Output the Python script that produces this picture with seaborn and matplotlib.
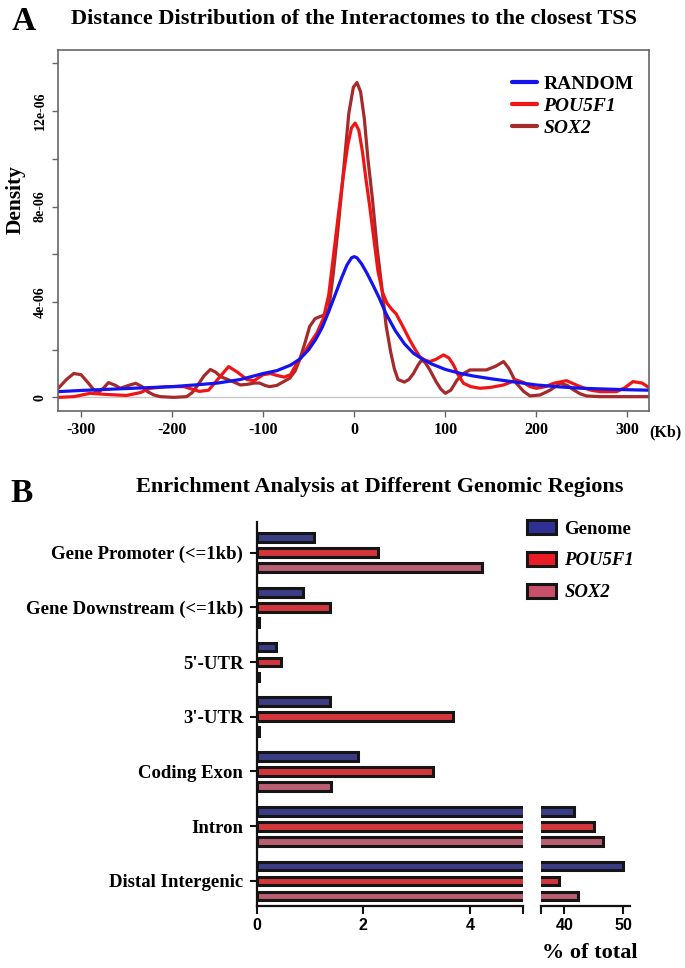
import matplotlib
matplotlib.use("Agg")
import matplotlib.pyplot as plt
import pandas as pd
import seaborn as sns
from matplotlib.lines import Line2D
from matplotlib.patches import Patch

sns.set_style("white")
plt.rcParams["font.family"] = ["Liberation Serif", "DejaVu Serif"]
plt.rcParams["font.weight"] = "bold"
plt.rcParams["text.color"] = "black"
plt.rcParams["xtick.labelcolor"] = "black"
plt.rcParams["ytick.labelcolor"] = "black"

# ---- panel A: density curves (x in kb, density in 1e-06)
random_kb = [-325, -300, -275, -250, -225, -200, -175, -150, -125, -100, -85, -70,
             -60, -50, -42, -35, -28, -21, -14, -8, -3, 0, 3, 8, 14, 20, 27, 35,
             45, 55, 65, 75, 85, 100, 115, 130, 150, 175, 200, 225, 250, 275, 300, 325]
random_den = [0.24, 0.29, 0.33, 0.37, 0.41, 0.45, 0.52, 0.6, 0.75, 1.0, 1.12, 1.35,
              1.6, 2.0, 2.45, 2.95, 3.6, 4.3, 5.0, 5.55, 5.85, 5.9, 5.85, 5.6, 5.2, 4.75, 4.2, 3.5,
              2.8, 2.25, 1.85, 1.6, 1.4, 1.17, 1.02, 0.9, 0.78, 0.65, 0.52, 0.44, 0.38, 0.35, 0.32, 0.3]

pou5f1_kb = [-325, -308, -290, -271, -250, -235, -224, -205, -187, -170, -160, -150,
             -138, -128, -118, -110, -100, -92, -85, -77, -70, -63, -56, -48, -41, -34,
             -28, -22, -17, -12, -7, -3, 1, 5, 9, 13, 17, 22, 26, 31, 36, 41, 46, 53,
             61, 67, 72, 78, 83, 90, 98, 104, 109, 114, 120, 128, 138, 150, 164, 178,
             186, 193, 200, 210, 219, 233, 248, 260, 270, 288, 297, 306, 316, 325]
pou5f1_den = [0.0, 0.03, 0.17, 0.12, 0.08, 0.2, 0.38, 0.45, 0.45, 0.25, 0.3, 0.75,
              1.29, 1.05, 0.75, 0.7, 0.95, 1.0, 0.92, 0.85, 0.95, 1.43, 1.8, 2.3, 2.7, 3.3,
              4.3, 6.2, 7.8, 9.3, 10.6, 11.3, 11.5, 11.2, 10.3, 9.1, 8.0, 6.5, 5.3, 4.4, 3.95, 3.7, 3.5, 3.0,
              2.4, 2.0, 1.7, 1.55, 1.5, 1.6, 1.78, 1.65, 1.36, 0.95, 0.59, 0.45, 0.38, 0.42, 0.52, 0.73,
              0.62, 0.45, 0.38, 0.45, 0.59, 0.7, 0.45, 0.3, 0.24, 0.24, 0.4, 0.66, 0.6, 0.38]

sox2_kb = [-325, -316, -308, -300, -292, -286, -280, -275, -270, -262, -257, -248,
           -240, -233, -227, -220, -213, -198, -184, -178, -173, -165, -158, -152, -147,
           -137, -125, -117, -110, -104, -98, -93, -85, -78, -71, -65, -60, -54, -49,
           -43, -38, -33, -28, -23, -18, -12, -6, -1, 3, 7, 11, 15, 20, 25, 30, 35, 40,
           44, 48, 55, 60, 65, 70, 74, 78, 83, 90, 95, 100, 106, 113, 120, 127, 136,
           145, 155, 164, 170, 178, 186, 193, 204, 215, 226, 234, 241, 248, 255, 270,
           291, 310, 325]
sox2_den = [0.38, 0.75, 1.0, 0.95, 0.6, 0.31, 0.24, 0.4, 0.62, 0.5, 0.38, 0.5,
            0.59, 0.45, 0.24, 0.1, 0.03, 0.0, 0.03, 0.2, 0.45, 0.9, 1.17, 1.05, 0.87,
            0.72, 0.52, 0.55, 0.6, 0.6, 0.5, 0.45, 0.5, 0.65, 0.8, 1.1, 1.57, 2.3, 2.97,
            3.3, 3.38, 3.45, 3.7, 5.2, 7.0, 9.4, 11.9, 13.0, 13.2, 12.8, 11.7, 10.0, 8.3, 6.3, 4.7, 3.0, 1.9,
            1.2, 0.75, 0.64, 0.75, 1.0, 1.35, 1.57, 1.45, 1.15, 0.65, 0.35, 0.17, 0.3, 0.73, 1.0, 1.15, 1.15,
            1.15, 1.3, 1.5, 1.2, 0.59, 0.25, 0.06, 0.1, 0.3, 0.59, 0.5, 0.31, 0.15, 0.06, 0.03,
            0.03, 0.03, 0.03]

density_ticks = [0, 2, 4, 6, 8, 10, 12, 14]
density_labels = ["0", "", "4e-06", "", "8e-06", "", "12e-06", ""]
kb_ticks = [-300, -200, -100, 0, 100, 200, 300]

# ---- panel B: % of total per genomic region
regions = ["Gene Promoter (<=1kb)", "Gene Downstream (<=1kb)", "5'-UTR", "3'-UTR",
           "Coding Exon", "Intron", "Distal Intergenic"]
groups = ["Genome", "POU5F1", "SOX2"]
genome_pct = [1.07, 0.87, 0.37, 1.37, 1.91, 41.6, 49.9]
pou5f1_pct = [2.28, 1.37, 0.46, 3.69, 3.31, 45.0, 39.1]
sox2_pct = [4.22, 0.04, 0.04, 0.04, 1.39, 46.5, 42.3]

line_colors = {"RANDOM": "#1414f0", "POU5F1": "#f01414", "SOX2": "#a52a2a"}
bar_colors = {"Genome": "#2e3192", "POU5F1": "#ec1c24", "SOX2": "#c85068"}
SANS = ["Liberation Sans", "DejaVu Sans"]


def draw_density(fig):
    ax = fig.add_axes([0.0851, 0.5757, 0.8628, 0.3726])
    ax.axhline(0, color="#c8c8c8", lw=1.0, zorder=1)
    series = [("RANDOM", random_kb, random_den), ("POU5F1", pou5f1_kb, pou5f1_den),
              ("SOX2", sox2_kb, sox2_den)]
    # draw the random line last so it sits on top, as in the figure
    for name, kb, den in [series[2], series[1], series[0]]:
        sns.lineplot(x=kb, y=den, ax=ax, color=line_colors[name], lw=2.3,
                     estimator=None, legend=False)
    ax.set_xlim(-325, 324)
    ax.set_ylim(-0.56, 14.56)
    ax.set_xticks(kb_ticks)
    ax.set_xticklabels([str(t) for t in kb_ticks], fontsize=11.5)
    ax.set_yticks(density_ticks)
    ax.set_yticklabels(density_labels, rotation=90, va="center", fontsize=10)
    ax.tick_params(axis="both", direction="out", length=4.3, width=1,
                   color="#666666", labelcolor="black", left=True, bottom=True)
    ax.tick_params(axis="x", pad=4)
    ax.tick_params(axis="y", pad=4)
    for sp in ax.spines.values():
        sp.set_visible(True)
        sp.set_color("#666666")
        sp.set_linewidth(1.2)
    ax.set_xlabel("")
    ax.set_ylabel("")

    handles = [Line2D([], [], color=line_colors[n], lw=3) for n in line_colors]
    leg = ax.legend(handles, list(line_colors), loc="upper left",
                    bbox_to_anchor=(0.7475, 0.922), bbox_transform=fig.transFigure,
                    frameon=False, fontsize=14, handlelength=1.3, handletextpad=0.3,
                    labelspacing=0.22, borderpad=0, borderaxespad=0)
    for txt in leg.get_texts():
        txt.set_fontweight("bold")
        txt.set_color("black")
        if txt.get_text() != "RANDOM":
            txt.set_fontstyle("italic")

    fig.text(0.0226, 1 - 200 / 968, "Density", rotation=90, ha="center", va="center",
             fontsize=15.5, fontweight="bold")
    fig.text(0.9474, 1 - 432 / 968, "(Kb)", ha="left", va="center", fontsize=11.5,
             fontweight="bold")


def draw_enrichment(fig):
    df = pd.DataFrame({
        "region": regions * 3,
        "pct": genome_pct + pou5f1_pct + sox2_pct,
        "group": [g for g in groups for _ in regions],
    })
    ax_l = fig.add_axes([0.3745, 0.0643, 0.3895, 0.3964])
    ax_r = fig.add_axes([0.7898, 0.0643, 0.1299, 0.3964])
    for ax in (ax_l, ax_r):
        sns.barplot(data=df, y="region", x="pct", hue="group", order=regions,
                    hue_order=groups, palette=bar_colors, orient="h", width=0.8227,
                    gap=0.42, edgecolor="#151515", linewidth=2.2, errorbar=None,
                    legend=False, ax=ax)
        ax.set_ylim(6.455, -0.561)
        ax.set_xlabel("")
        ax.set_ylabel("")
        for side in ("top", "right"):
            ax.spines[side].set_visible(False)
        ax.spines["bottom"].set_linewidth(1.6)
        ax.spines["bottom"].set_color("#111111")
        ax.tick_params(axis="x", direction="out", length=5.8, width=1.5,
                       color="#111111", labelcolor="black", bottom=True, pad=3)

    ax_l.set_xlim(0, 5)
    ax_l.set_xticks([0, 2, 4, 5])
    ax_l.set_xticklabels(["0", "2", "4", ""], fontsize=11.5, fontweight="bold",
                         family=SANS)
    ax_l.spines["left"].set_linewidth(1.6)
    ax_l.spines["left"].set_color("#111111")
    ax_l.tick_params(axis="y", direction="out", length=5, width=1.5,
                     color="#111111", labelcolor="black", left=True, pad=4.5)
    ax_l.set_yticks(range(len(regions)))
    ax_l.set_yticklabels(regions, fontsize=13.5, fontweight="bold")

    ax_r.set_xlim(36.05, 51.1)
    ax_r.set_xticks([36.05, 40, 50])
    ax_r.set_xticklabels(["", "40", "50"], fontsize=11.5, fontweight="bold",
                         family=SANS)
    ax_r.spines["left"].set_visible(False)
    ax_r.tick_params(axis="y", left=False, labelleft=False)

    handles = [Patch(facecolor=bar_colors[g], edgecolor="#151515", linewidth=2.2)
               for g in groups]
    leg = fig.legend(handles, groups, loc="upper left", bbox_to_anchor=(0.769, 0.4628),
                     frameon=False, fontsize=13.5, handlelength=1.55, handleheight=0.8,
                     handletextpad=0.45, labelspacing=0.75, borderpad=0,
                     borderaxespad=0)
    for txt in leg.get_texts():
        txt.set_fontweight("bold")
        txt.set_color("black")
        if txt.get_text() != "Genome":
            txt.set_fontstyle("italic")

    fig.text(0.861, 1 - 953 / 968, "% of total", ha="center", va="center",
             fontsize=16, fontweight="bold")


def main():
    fig = plt.figure(figsize=(6.85, 9.68), dpi=100)
    draw_density(fig)
    draw_enrichment(fig)

    fig.text(0.034, 1 - 21 / 968, "A", ha="center", va="center", fontsize=24,
             fontweight="bold")
    fig.text(0.517, 1 - 19 / 968, "Distance Distribution of the Interactomes to the closest TSS",
             ha="center", va="center", fontsize=16, fontweight="bold")
    fig.text(0.031, 1 - 494 / 968, "B", ha="center", va="center", fontsize=24,
             fontweight="bold")
    fig.text(0.555, 1 - 487 / 968, "Enrichment Analysis at Different Genomic Regions",
             ha="center", va="center", fontsize=16, fontweight="bold")

    fig.savefig("out.png", dpi=100)


if __name__ == "__main__":
    main()
